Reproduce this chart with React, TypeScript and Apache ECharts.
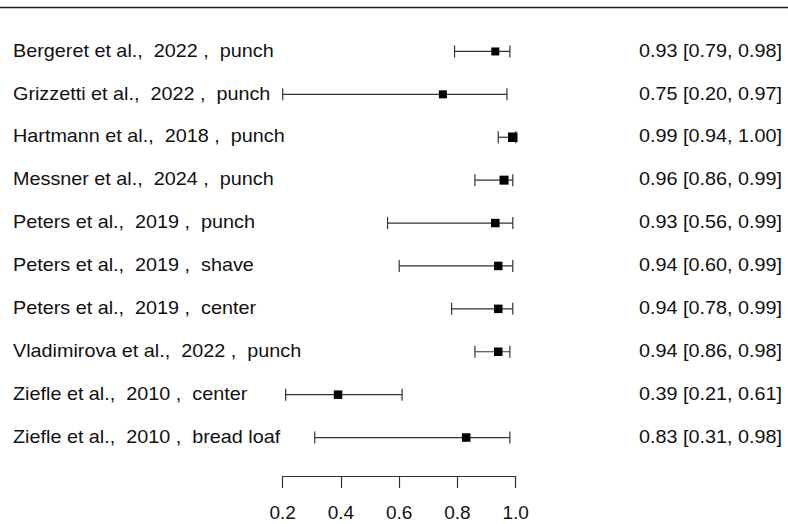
import React, { useEffect, useRef } from "react";
import * as echarts from "echarts";

const studies = [
  "Bergeret et al.,  2022 ,  punch",
  "Grizzetti et al.,  2022 ,  punch",
  "Hartmann et al.,  2018 ,  punch",
  "Messner et al.,  2024 ,  punch",
  "Peters et al.,  2019 ,  punch",
  "Peters et al.,  2019 ,  shave",
  "Peters et al.,  2019 ,  center",
  "Vladimirova et al.,  2022 ,  punch",
  "Ziefle et al.,  2010 ,  center",
  "Ziefle et al.,  2010 ,  bread loaf",
];
const estimates = [0.93, 0.75, 0.99, 0.96, 0.93, 0.94, 0.94, 0.94, 0.39, 0.83];
const lower = [0.79, 0.2, 0.94, 0.86, 0.56, 0.6, 0.78, 0.86, 0.21, 0.31];
const upper = [0.98, 0.97, 1.0, 0.99, 0.99, 0.99, 0.99, 0.98, 0.61, 0.98];
const weights = [8, 8, 9.5, 9, 8.5, 8.5, 8.5, 8.5, 8.5, 8.5];
const xTicks = [0.2, 0.4, 0.6, 0.8, 1.0];

const FONT = "'Liberation Sans', Arial, Helvetica, sans-serif";

export default function App() {
  const ref = useRef<HTMLDivElement>(null);
  useEffect(() => {
    if (!ref.current) return;
    const chart = echarts.init(ref.current, null, { renderer: "svg" });
    const fmt = (v: number) => v.toFixed(2);
    const data = studies.map((s, i) => [i, lower[i], estimates[i], upper[i], weights[i]]);
    chart.setOption({
      animation: false,
      backgroundColor: "#fff",
      grid: { left: 282.7, right: 272.3, top: 30, height: 429 },
      xAxis: {
        type: "value",
        min: xTicks[0],
        max: xTicks[xTicks.length - 1],
        interval: 0.2,
        offset: 17,
        splitLine: { show: false },
        axisLine: { show: true, lineStyle: { color: "#333", width: 1.2 } },
        axisTick: { show: true, inside: false, length: 12, lineStyle: { color: "#333", width: 1.2 } },
        axisLabel: {
          margin: 27,
          fontSize: 19,
          fontFamily: FONT,
          color: "#111",
          formatter: (v: number) => v.toFixed(1),
        },
      },
      yAxis: {
        type: "category",
        inverse: true,
        data: studies,
        show: false,
      },
      graphic: [
        {
          type: "line",
          shape: { x1: 0, y1: 7.5, x2: 788, y2: 7.5 },
          style: { stroke: "#222", lineWidth: 1.3 },
        },
      ],
      series: [
        {
          type: "custom",
          clip: false,
          data,
          renderItem: (params: any, api: any) => {
            const idx = api.value(0);
            const lo = api.coord([api.value(1), idx]);
            const est = api.coord([api.value(2), idx]);
            const hi = api.coord([api.value(3), idx]);
            const s = api.value(4);
            const y = est[1];
            const cap = 6;
            const i = params.dataIndex;
            const lineStyle = { stroke: "#333", lineWidth: 1.2 };
            return {
              type: "group",
              children: [
                { type: "line", shape: { x1: lo[0], y1: y, x2: hi[0], y2: y }, style: lineStyle },
                { type: "line", shape: { x1: lo[0], y1: y - cap, x2: lo[0], y2: y + cap }, style: lineStyle },
                { type: "line", shape: { x1: hi[0], y1: y - cap, x2: hi[0], y2: y + cap }, style: lineStyle },
                { type: "rect", shape: { x: est[0] - s / 2, y: y - s / 2, width: s, height: s }, style: { fill: "#000" } },
                {
                  type: "text",
                  x: 13,
                  y: y - 1,
                  scaleX: 1.1,
                  style: {
                    text: studies[i],
                    fontSize: 18,
                    fontFamily: FONT,
                    fill: "#111",
                    align: "left",
                    verticalAlign: "middle",
                  },
                },
                {
                  type: "text",
                  x: 782,
                  y: y - 1,
                  scaleX: 1.1,
                  style: {
                    text: `${fmt(estimates[i])} [${fmt(lower[i])}, ${fmt(upper[i])}]`,
                    fontSize: 18,
                    fontFamily: FONT,
                    fill: "#111",
                    align: "right",
                    verticalAlign: "middle",
                  },
                },
              ],
            };
          },
        },
      ],
    });
    return () => chart.dispose();
  }, []);
  return (
    <div
      ref={ref}
      style={{ position: "fixed", left: 0, top: 0, width: 788, height: 524, background: "#fff" }}
    />
  );
}
